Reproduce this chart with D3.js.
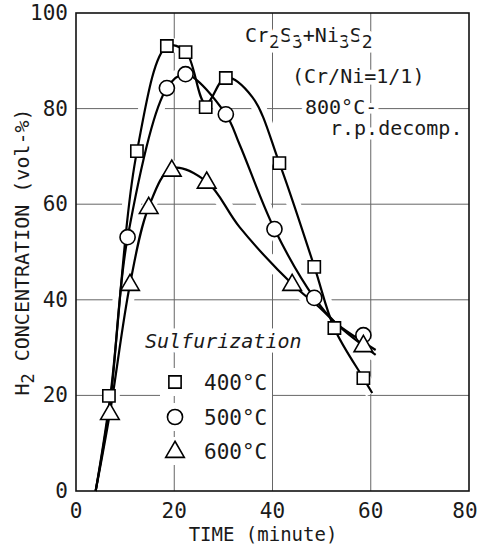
<!DOCTYPE html>
<html>
<head>
<meta charset="utf-8">
<script src="https://cdn.jsdelivr.net/npm/d3@7"></script>
<style>
  html, body { margin: 0; padding: 0; background: #fff; }
  text { font-family: "DejaVu Sans Mono", monospace; fill: #1a1a1a; }
</style>
</head>
<body>
<div id="chart"></div>
<script>
'use strict';

// tick labels
const xTicks = [0, 20, 40, 60, 80];
const yTicks = [0, 20, 40, 60, 80, 100];

// measured points (time in minutes, H2 vol-%)
const time400 = [6.7, 12.4, 18.5, 22.3, 26.4, 30.5, 41.4, 48.5, 52.6, 58.5];
const h2_400 = [19.9, 71.1, 93.1, 91.8, 80.3, 86.4, 68.6, 46.9, 34.1, 23.6];
const time500 = [10.5, 18.5, 22.3, 30.5, 40.4, 48.5, 58.5];
const h2_500 = [53.1, 84.3, 87.2, 78.8, 54.8, 40.4, 32.6];
const time600 = [6.9, 11.0, 14.8, 19.5, 26.6, 44.0, 58.5];
const h2_600 = [16.3, 43.3, 59.4, 67.2, 64.7, 43.3, 30.5];

// hand-drawn fitted curves
const curveT400 = [4, 7, 12.4, 18.5, 22.3, 26.4, 30.5, 35.9, 41.4, 48.5, 52.6, 58.5, 60.3];
const curveV400 = [0, 20, 71, 93, 92, 81, 86.5, 82.4, 68.6, 47, 34, 23.6, 20.5];
const curveT500 = [4, 7, 10.5, 18.5, 22.3, 30.5, 33.3, 40.4, 48.5, 53, 61];
const curveV500 = [0, 19, 53, 84.3, 87.2, 78.8, 72.5, 54.8, 40.4, 35, 28.5];
const curveT600 = [4, 6.9, 11, 14.8, 19.5, 26.6, 33.3, 44, 50, 53, 61];
const curveV600 = [0, 16.3, 43.3, 59.4, 67.5, 64.7, 55.2, 43.3, 38, 35, 29.5];

const legendLabels = ['400°C', '500°C', '600°C'];

const W = 479, H = 556;
const x = d3.scaleLinear().domain([0, 80]).range([76, 469]);
const y = d3.scaleLinear().domain([0, 100]).range([491, 13]);

const svg = d3.select('#chart').append('svg')
    .attr('width', W).attr('height', H)
    .style('background', '#fff');

const zip = (a, b) => a.map((v, i) => [v, b[i]]);

// grid lines
const grid = svg.append('g').attr('stroke', '#666').attr('stroke-width', 1);
grid.selectAll('line.v').data(xTicks.slice(1, -1)).join('line')
    .attr('x1', d => x(d)).attr('x2', d => x(d))
    .attr('y1', y(0)).attr('y2', y(100));
grid.selectAll('line.h').data(yTicks.slice(1, -1)).join('line')
    .attr('x1', x(0)).attr('x2', x(80))
    .attr('y1', d => y(d)).attr('y2', d => y(d));

const line = d3.line().x(d => x(d[0])).y(d => y(d[1])).curve(d3.curveCatmullRom.alpha(0.5));
const curves = [zip(curveT400, curveV400), zip(curveT500, curveV500), zip(curveT600, curveV600)];

// white halos so the grid breaks around the curves
svg.append('g').selectAll('path').data(curves).join('path')
    .attr('d', line).attr('fill', 'none')
    .attr('stroke', '#fff').attr('stroke-width', 14);

// frame
svg.append('rect')
    .attr('x', x(0)).attr('y', y(100))
    .attr('width', x(80) - x(0)).attr('height', y(0) - y(100))
    .attr('fill', 'none').attr('stroke', '#111').attr('stroke-width', 1.6);

svg.append('g').selectAll('path').data(curves).join('path')
    .attr('d', line).attr('fill', 'none')
    .attr('stroke', '#000').attr('stroke-width', 2.2);

// markers
const sym = {
    square: d3.symbol().type(d3.symbolSquare).size(150),
    circle: d3.symbol().type(d3.symbolCircle).size(180),
    triangle: d3.symbol().type(d3.symbolTriangle).size(150)
};
const drawMarkers = (pts, gen, dy) => svg.append('g').selectAll('path').data(pts).join('path')
    .attr('d', gen)
    .attr('transform', d => `translate(${x(d[0])},${y(d[1]) + dy})`)
    .attr('fill', '#fff').attr('stroke', '#000').attr('stroke-width', 1.6);
drawMarkers(zip(time400, h2_400), sym.square, 0);
drawMarkers(zip(time500, h2_500), sym.circle, 0);
drawMarkers(zip(time600, h2_600), sym.triangle, 1);

// axis tick labels
svg.append('g').selectAll('text').data(yTicks).join('text')
    .attr('x', 68).attr('y', d => y(d) + 7)
    .attr('text-anchor', 'end').attr('font-size', 21)
    .text(d => d);
svg.append('g').selectAll('text').data(xTicks).join('text')
    .attr('x', d => x(d) - (d === 80 ? 4 : 0)).attr('y', 518)
    .attr('text-anchor', 'middle').attr('font-size', 21)
    .text(d => d);

// axis titles
svg.append('text')
    .attr('x', 263).attr('y', 541)
    .attr('text-anchor', 'middle').attr('font-size', 19)
    .text('TIME (minute)');

const yTitle = svg.append('text')
    .attr('transform', 'translate(29,252) rotate(-90)')
    .attr('text-anchor', 'middle').attr('font-size', 20);
yTitle.append('tspan').text('H');
yTitle.append('tspan').attr('dy', 5).attr('font-size', 17).text('2');
yTitle.append('tspan').attr('dy', -5).text(' CONCENTRATION (vol-%)');

// annotation, with white halo so the grid breaks around it
const halo = sel => sel.attr('stroke', '#fff').attr('stroke-width', 9)
    .attr('paint-order', 'stroke').attr('stroke-linejoin', 'round');

const title = svg.append('text').attr('x', 245).attr('y', 42).attr('font-size', 20).call(halo);
[['Cr', 0], ['2', 6], ['S', -6], ['3', 6], ['+Ni', -6], ['3', 6], ['S', -6], ['2', 6]].forEach(([t, dy]) => {
    const ts = title.append('tspan').attr('dy', dy).text(t);
    if (dy > 0) ts.attr('font-size', 18);
});
svg.append('text').attr('x', 292).attr('y', 83).attr('font-size', 20).call(halo).text('(Cr/Ni=1/1)');
svg.append('text').attr('x', 305).attr('y', 114).attr('font-size', 20).call(halo).text('800°C-');
svg.append('text').attr('x', 330).attr('y', 135).attr('font-size', 20).call(halo).text('r.p.decomp.');

// legend
svg.append('text').attr('x', 145).attr('y', 348).attr('font-size', 20)
    .attr('font-style', 'italic').call(halo).text('Sulfurization');
const legendSyms = [sym.square, sym.circle, sym.triangle];
const legendY = [382, 417, 451];
const lg = svg.append('g');
lg.selectAll('rect').data(legendY).join('rect')
    .attr('x', 160).attr('y', d => d - 14).attr('width', 112).attr('height', 28)
    .attr('fill', '#fff');
lg.selectAll('path').data(legendY).join('path')
    .attr('d', (d, i) => legendSyms[i]())
    .attr('transform', (d, i) => `translate(175,${d + (i === 2 ? 1 : 0)})`)
    .attr('fill', '#fff').attr('stroke', '#000').attr('stroke-width', 1.6);
lg.selectAll('text').data(legendY).join('text')
    .attr('x', 204).attr('y', d => d + 8).attr('font-size', 21)
    .text((d, i) => legendLabels[i]);
</script>
</body>
</html>
